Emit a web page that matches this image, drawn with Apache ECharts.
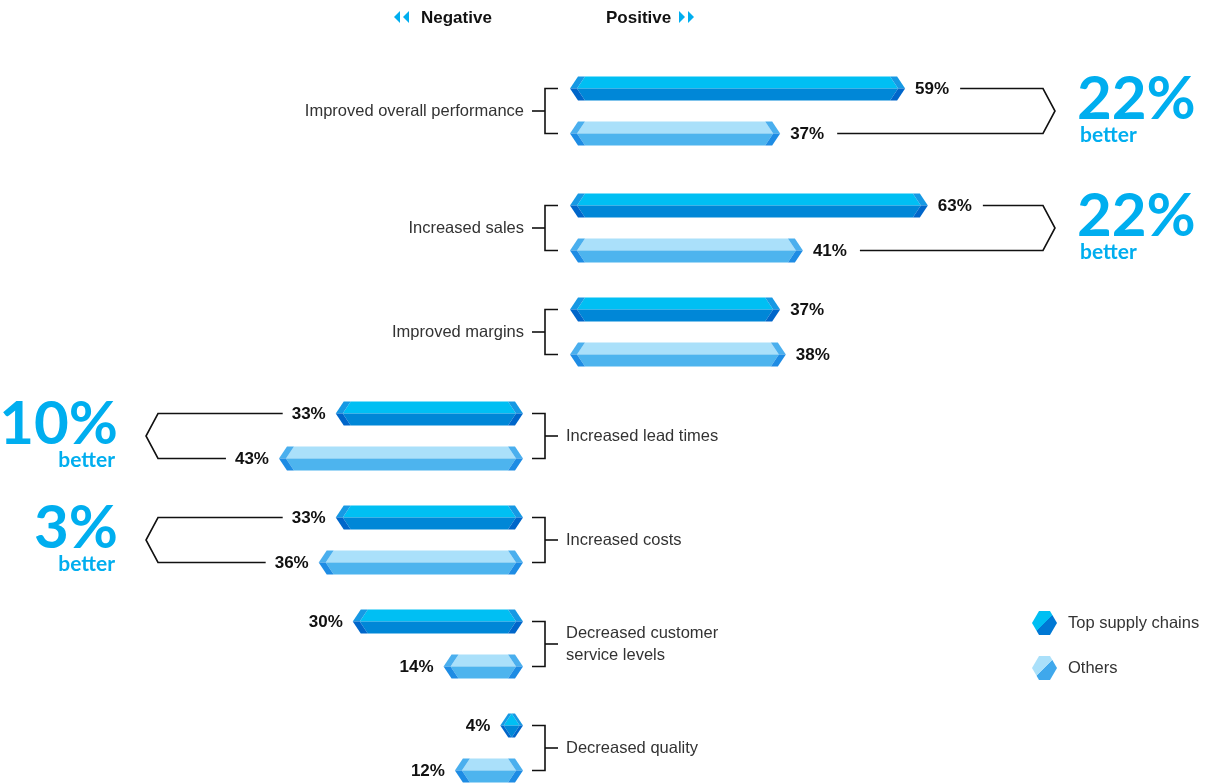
<!DOCTYPE html>
<html>
<head>
<meta charset="utf-8">
<script src="https://cdn.jsdelivr.net/npm/echarts@6/dist/echarts.min.js"></script>
<style>
  html, body { margin: 0; padding: 0; background: #fff; }
  #chart { width: 1210px; height: 784px; }
</style>
</head>
<body>
<div id="chart"></div>
<script>
const categories = [
  'Improved overall performance',
  'Increased sales',
  'Improved margins',
  'Increased lead times',
  'Increased costs',
  'Decreased customer\nservice levels',
  'Decreased quality'
]
const sides = ['pos', 'pos', 'pos', 'neg', 'neg', 'neg', 'neg']
const topChains = [59, 63, 37, 33, 33, 30, 4]
const others = [37, 41, 38, 43, 36, 14, 12]
const gapLabels = ['22%', '22%', '', '10%', '3%', '', '']

const BAR_H = 24
const PAIR_OFFSET = 22.5
const LABEL_FONT = '"Liberation Sans", Arial, sans-serif'
const BIG_FONT = 'Lato, "Liberation Sans", sans-serif'
const CYAN = '#00AEEF'

const palettes = {
  top: { upper: '#00BFF3', lower: '#0087D7', capUp: '#1699E4', capLow: '#0066CA' },
  others: { upper: '#AAE0FA', lower: '#4DB4EE', capUp: '#4AAFEE', capLow: '#1E8CE4' }
}

const measureCtx = document.createElement('canvas').getContext('2d')
function textWidth(text) {
  measureCtx.font = 'bold 17px ' + LABEL_FONT
  return measureCtx.measureText(text).width
}

// row centre, first row sits a little higher in the original layout
function rowY(api, row) {
  const y = api.coord([0, row])[1]
  return row === 0 ? y - 13 : y
}

function hexParts(L, R, cy, h) {
  const T = cy - h / 2
  const B = cy + h / 2
  const w = R - L
  const b = Math.min(8, w / 2)
  const k = Math.max(0, Math.min(7, (w - 2 * b) / 2))
  return {
    upper: [[L + k, cy], [L + b + k, T], [R - b - k, T], [R - k, cy]],
    lower: [[L + k, cy], [L + b + k, B], [R - b - k, B], [R - k, cy]],
    lu: [[L, cy], [L + b, T], [L + b + k, T], [L + k, cy]],
    ll: [[L, cy], [L + k, cy], [L + b + k, B], [L + b, B]],
    ru: [[R, cy], [R - b, T], [R - b - k, T], [R - k, cy]],
    rl: [[R, cy], [R - k, cy], [R - b - k, B], [R - b, B]]
  }
}

function barRenderer(pal, dir) {
  return function(params, api) {
    const v = api.value(0)
    const row = api.value(1)
    const cy = rowY(api, row) + dir * PAIR_OFFSET
    const x0 = api.coord([0, row])[0]
    const x1 = api.coord([v, row])[0]
    const L = Math.min(x0, x1)
    const R = Math.max(x0, x1)
    const p = hexParts(L, R, cy, BAR_H)
    const poly = (pts, fill) => ({ type: 'polygon', shape: { points: pts }, style: { fill: fill } })
    const positive = x1 >= x0
    return {
      type: 'group',
      children: [
        poly(p.upper, pal.upper),
        poly(p.lower, pal.lower),
        poly(p.lu, pal.capUp),
        poly(p.ll, pal.capLow),
        poly(p.ru, pal.capUp),
        poly(p.rl, pal.capLow),
        {
          type: 'text',
          style: {
            text: v + '%',
            x: positive ? x1 + 10 : x1 - 10,
            y: cy + 1,
            align: positive ? 'left' : 'right',
            verticalAlign: 'middle',
            fontSize: 17,
            fontWeight: 'bold',
            fontFamily: LABEL_FONT,
            fill: '#111'
          }
        }
      ]
    }
  }
}

function frameRenderer(params, api) {
  const row = api.value(1)
  const cy = rowY(api, row)
  const bx = api.coord([0, row])[0] - 25
  const yt = cy - PAIR_OFFSET
  const yb = cy + PAIR_OFFSET
  const pos = sides[row] === 'pos'
  const s = pos ? 1 : -1
  const line = (pts) => ({ type: 'polyline', shape: { points: pts }, style: { stroke: '#111', lineWidth: 1.6, fill: null } })
  return {
    type: 'group',
    children: [
      line([[bx + s * 13, yt], [bx, yt], [bx, yb], [bx + s * 13, yb]]),
      line([[bx, cy], [bx - s * 13, cy]]),
      {
        type: 'text',
        style: {
          text: categories[row],
          x: pos ? bx - 21 : bx + 21,
          y: cy,
          align: pos ? 'right' : 'left',
          verticalAlign: 'middle',
          fontSize: 16.5,
          lineHeight: 22,
          fontFamily: LABEL_FONT,
          fill: '#333'
        }
      }
    ]
  }
}

function connectorRenderer(params, api) {
  const tv = api.value(0)
  const row = api.value(1)
  const ov = api.value(2)
  const cy = rowY(api, row)
  const yt = cy - PAIR_OFFSET
  const yb = cy + PAIR_OFFSET
  const xt = api.coord([tv, row])[0]
  const xo = api.coord([ov, row])[0]
  const pos = sides[row] === 'pos'
  const label = gapLabels[row]
  let pts, bigX, betterX, align
  if (pos) {
    const st = xt + 10 + textWidth(tv + '%') + 11
    const so = xo + 10 + textWidth(ov + '%') + 13
    pts = [[st, yt], [1043, yt], [1055, cy], [1043, yb], [so, yb]]
    bigX = 1077
    betterX = 1080
    align = 'left'
  } else {
    const st = xt - 10 - textWidth(tv + '%') - 9
    const so = xo - 10 - textWidth(ov + '%') - 9
    pts = [[st, yt], [158, yt], [146, cy], [158, yb], [so, yb]]
    bigX = 118
    betterX = 115
    align = 'right'
  }
  return {
    type: 'group',
    children: [
      { type: 'polyline', shape: { points: pts }, style: { stroke: '#111', lineWidth: 1.6, fill: null } },
      {
        type: 'text',
        style: {
          text: label, x: bigX, y: cy - 11, align: align, verticalAlign: 'middle',
          fontSize: 60, fontWeight: 'bold', fontFamily: BIG_FONT, fill: CYAN
        }
      },
      {
        type: 'text',
        style: {
          text: 'better', x: betterX, y: cy + 24, align: align, verticalAlign: 'middle',
          fontSize: 21, fontWeight: 'bold', fontFamily: BIG_FONT, fill: CYAN
        }
      }
    ]
  }
}

const rows = categories.map((c, i) => i)
const posRows = rows.filter(i => sides[i] === 'pos')
const negRows = rows.filter(i => sides[i] === 'neg')
const gapRows = rows.filter(i => gapLabels[i])

const topColor = new echarts.graphic.LinearGradient(0, 0, 1, 1, [
  { offset: 0, color: '#00BFF3' }, { offset: 0.5, color: '#00BFF3' },
  { offset: 0.5, color: '#0078D4' }, { offset: 1, color: '#0078D4' }
])
const othersColor = new echarts.graphic.LinearGradient(0, 0, 1, 1, [
  { offset: 0, color: '#AAE0FA' }, { offset: 0.5, color: '#AAE0FA' },
  { offset: 0.5, color: '#3FA8EC' }, { offset: 1, color: '#3FA8EC' }
])

const chart = echarts.init(document.getElementById('chart'))
chart.setOption({
  animation: false,
  legend: {
    data: ['Top supply chains', 'Others'],
    orient: 'vertical',
    left: 1027,
    top: 606,
    itemWidth: 25,
    itemHeight: 24,
    itemGap: 21,
    icon: 'path://M0,12 L7,0 L18,0 L25,12 L18,24 L7,24 Z',
    selectedMode: false,
    textStyle: { fontSize: 16.5, color: '#333', fontFamily: LABEL_FONT, padding: [0, 0, 0, 6] }
  },
  graphic: [
    { type: 'polygon', shape: { points: [[394, 17], [400, 11], [400, 23]] }, style: { fill: CYAN } },
    { type: 'polygon', shape: { points: [[403, 17], [409, 11], [409, 23]] }, style: { fill: CYAN } },
    { type: 'text', left: 421, top: 10, style: { text: 'Negative', fontSize: 17, fontWeight: 'bold', fontFamily: LABEL_FONT, fill: '#111' } },
    { type: 'text', left: 606, top: 10, style: { text: 'Positive', fontSize: 17, fontWeight: 'bold', fontFamily: LABEL_FONT, fill: '#111' } },
    { type: 'polygon', shape: { points: [[679, 11], [685, 17], [679, 23]] }, style: { fill: CYAN } },
    { type: 'polygon', shape: { points: [[688, 11], [694, 17], [688, 23]] }, style: { fill: CYAN } }
  ],
  grid: [
    { left: 69, width: 454, top: 124, height: 624, outerBoundsMode: 'none' },
    { left: 570, width: 568, top: 124, height: 624, outerBoundsMode: 'none' }
  ],
  xAxis: [
    { gridIndex: 0, type: 'value', min: 0, max: 80, inverse: true, show: false },
    { gridIndex: 1, type: 'value', min: 0, max: 100, show: false }
  ],
  yAxis: [
    { gridIndex: 0, type: 'category', data: categories, inverse: true, boundaryGap: false, show: false },
    { gridIndex: 1, type: 'category', data: categories, inverse: true, boundaryGap: false, show: false }
  ],
  series: [
    {
      name: 'Top supply chains', type: 'custom', xAxisIndex: 1, yAxisIndex: 1,
      itemStyle: { color: topColor },
      renderItem: barRenderer(palettes.top, -1),
      data: posRows.map(i => [topChains[i], i])
    },
    {
      name: 'Top supply chains', type: 'custom', xAxisIndex: 0, yAxisIndex: 0,
      itemStyle: { color: topColor },
      renderItem: barRenderer(palettes.top, -1),
      data: negRows.map(i => [topChains[i], i])
    },
    {
      name: 'Others', type: 'custom', xAxisIndex: 1, yAxisIndex: 1,
      itemStyle: { color: othersColor },
      renderItem: barRenderer(palettes.others, 1),
      data: posRows.map(i => [others[i], i])
    },
    {
      name: 'Others', type: 'custom', xAxisIndex: 0, yAxisIndex: 0,
      itemStyle: { color: othersColor },
      renderItem: barRenderer(palettes.others, 1),
      data: negRows.map(i => [others[i], i])
    },
    {
      type: 'custom', xAxisIndex: 1, yAxisIndex: 1,
      renderItem: frameRenderer,
      data: rows.map(i => [0, i])
    },
    {
      type: 'custom', xAxisIndex: 1, yAxisIndex: 1,
      renderItem: connectorRenderer,
      data: gapRows.filter(i => sides[i] === 'pos').map(i => [topChains[i], i, others[i]])
    },
    {
      type: 'custom', xAxisIndex: 0, yAxisIndex: 0,
      renderItem: connectorRenderer,
      data: gapRows.filter(i => sides[i] === 'neg').map(i => [topChains[i], i, others[i]])
    }
  ]
})
</script>
</body>
</html>
